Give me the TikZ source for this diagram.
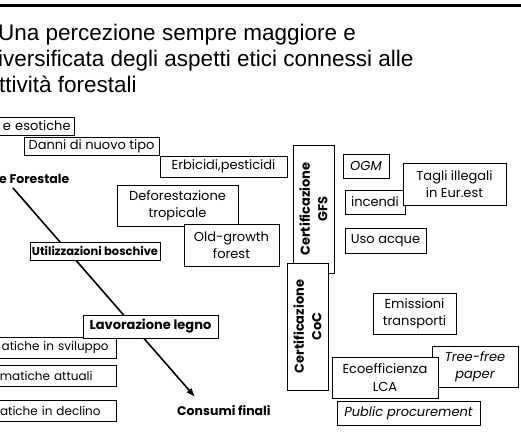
\documentclass[tikz,border=0pt]{standalone}
\usepackage{fontspec}
\setmainfont{Poppins}
\newfontfamily\titlefont{Liberation Sans}
\usetikzlibrary{arrows.meta}

\begin{document}
\begin{tikzpicture}[
    x=1pt, y=-1pt, >={Latex[length=9pt, width=7pt]},
    box/.style={draw, fill=white, line width=0.8pt, inner sep=0pt, align=center, font=\fontsize{13}{17.5}\selectfont},
    boldbox/.style={box, font=\fontsize{13}{17.5}\selectfont\bfseries},
    italbox/.style={box, font=\fontsize{13}{17.5}\selectfont\itshape},
    certbox/.style={box, rotate=90, font=\fontsize{13}{17.5}\selectfont\bfseries},
    cutbox/.style={box, anchor=east, align=right, text width=200pt, minimum height=21pt, font=\fontsize{12}{15}\selectfont},
    heading/.style={anchor=base west, inner sep=0pt, font=\titlefont\fontsize{22.5}{26}\selectfont},
    freetext/.style={anchor=base west, inner sep=0pt, font=\fontsize{12.5}{15}\selectfont\bfseries}
]
    \useasboundingbox (0,0) rectangle (521,439);
    \draw[line width=2.5pt] (0,5.5) -- (521,5.5);

    \node[heading] (title1) at (-2,40) {Una percezione sempre maggiore e};
    \node[heading] (title2) at (-2,66) {iversificata degli aspetti etici connessi alle};
    \node[heading] (title3) at (-1,92) {ttività forestali};

    \node[freetext] (forestale) at (-1,183) {e Forestale};
    \node[freetext] (consumi) at (177,415) {Consumi finali};
    \coordinate (flowtop) at (13,188);
    \coordinate (flowend) at (195,397);
    \draw[->, line width=1.6pt] (flowtop) -- (flowend);

    \node[cutbox, minimum height=18pt, inner xsep=4pt, font=\fontsize{13}{15}\selectfont] (esotiche) at (75,126) {e esotiche};
    \node[box, minimum width=135pt, minimum height=18pt] (danni) at (91.5,146) {Danni di nuovo tipo};
    \node[box, minimum width=127pt, minimum height=21pt] (erbicidi) at (223.5,166.5) {Erbicidi,pesticidi};
    \node[box, minimum width=121pt, minimum height=41pt] (deforest) at (177.5,205.5) {Deforestazione\\tropicale};
    \node[box, minimum width=95pt, minimum height=42pt] (oldgrowth) at (231.5,245) {Old-growth\\forest};
    \node[boldbox, minimum width=130pt, minimum height=18pt, font=\fontsize{11.5}{14}\selectfont\bfseries] (utilizz) at (95,251) {Utilizzazioni boschive};

    \node[cutbox, inner xsep=8pt] (sviluppo) at (117,347.5) {atiche in sviluppo};
    \node[cutbox, inner xsep=24pt] (attuali) at (117,375.5) {matiche attuali};
    \node[cutbox, inner xsep=16pt] (declino) at (117,410.5) {matiche in declino};
    \node[boldbox, minimum width=135pt, minimum height=23pt] (lavoraz) at (150.5,326.5) {Lavorazione legno};

    \node[certbox, minimum width=128pt, minimum height=41pt] (gfs) at (313.5,209) {Certificazione\\GFS};
    \node[certbox, minimum width=127pt, minimum height=41pt] (coc) at (307.5,326.5) {Certificazione\\CoC};

    \node[italbox, minimum width=46pt, minimum height=24pt] (ogm) at (366,166) {OGM};
    \node[box, minimum width=60pt, minimum height=24pt] (incendi) at (375,202) {incendi};
    \node[box, minimum width=103pt, minimum height=42pt] (tagli) at (454.5,184) {Tagli illegali\\in Eur.est};
    \node[box, minimum width=81pt, minimum height=25pt] (uso) at (385.5,240.5) {Uso acque};
    \node[box, minimum width=83pt, minimum height=41pt] (emissioni) at (414.5,313.5) {Emissioni\\transporti};
    \node[italbox, minimum width=86pt, minimum height=41pt] (treefree) at (475,366.5) {Tree-free\\paper};
    \node[box, minimum width=106pt, minimum height=41pt] (ecoeff) at (385,377.5) {Ecoefficienza\\LCA};
    \node[italbox, minimum width=143pt, minimum height=24pt] (public) at (408.5,413) {Public procurement};
\end{tikzpicture}
\end{document}
